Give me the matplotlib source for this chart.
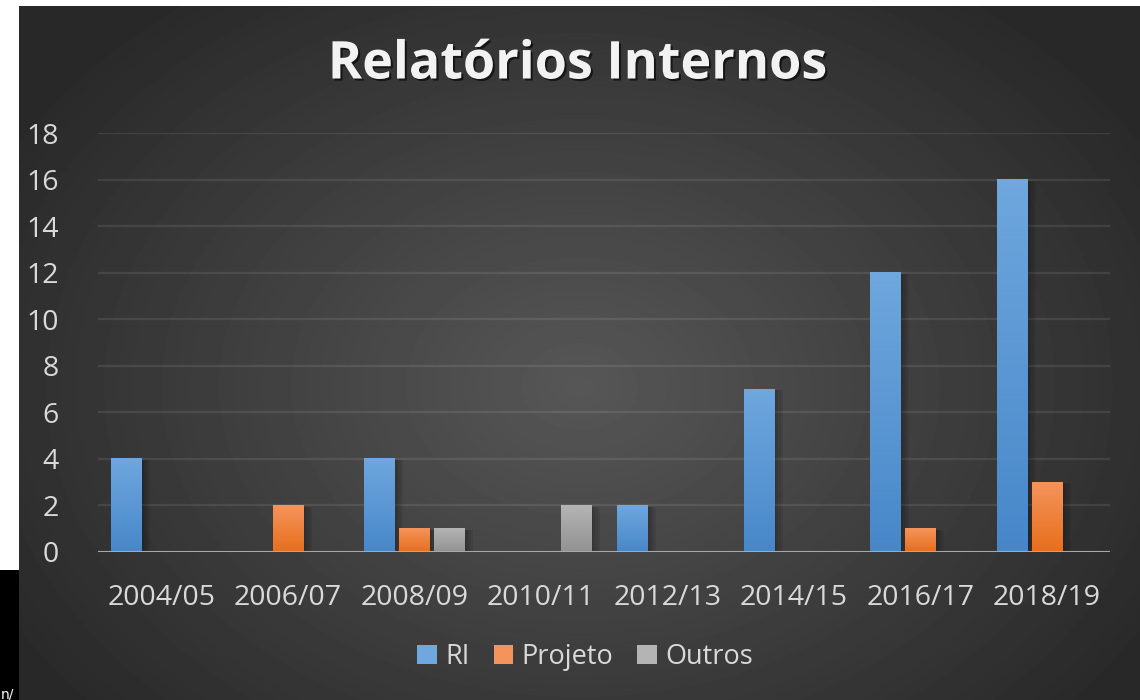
import matplotlib.pyplot as plt
import matplotlib.patheffects as pe
from matplotlib.patches import Rectangle, Patch
import numpy as np

# data
periods = ["2004/05", "2006/07", "2008/09", "2010/11", "2012/13", "2014/15", "2016/17", "2018/19"]
ri = [4, 0, 4, 0, 2, 7, 12, 16]
projeto = [0, 2, 1, 0, 0, 0, 1, 3]
outros = [0, 0, 1, 2, 0, 0, 0, 0]

series = [("RI", ri, "#6fa7de", "#4787c9"),
          ("Projeto", projeto, "#f4945c", "#e86e1b"),
          ("Outros", outros, "#b4b4b4", "#929292")]

W, H = 1140, 700
fig = plt.figure(figsize=(W / 100, H / 100), dpi=100, facecolor="white")

# dark panel with radial gradient
bg = fig.add_axes([19 / W, 0, (W - 19) / W, (H - 6) / H])
bg.set_axis_off()
yy, xx = np.mgrid[0:694, 0:1121]
r = np.sqrt(((xx - 560) / 700) ** 2 + ((yy - 380) / 520) ** 2)
shade = np.clip(0.34 - 0.19 * r, 0.16, 0.34)
bg.imshow(shade, cmap="gray", vmin=0, vmax=1, aspect="auto", interpolation="bilinear")

fig.patches.append(Rectangle((0, 0), 19 / W, 130 / H, transform=fig.transFigure,
                             facecolor="black", edgecolor="none", zorder=5))
fig.text(1 / W, 2 / H, "n/", color="white", fontsize=10, zorder=6)

ax = fig.add_axes([98 / W, 1 - 552 / H, (1110 - 98) / W, (552 - 133) / H])
ax.set_facecolor("none")
ax.set_xlim(-0.5, 7.5)
ax.set_ylim(0, 18)
ax.set_yticks(range(0, 19, 2))
ax.set_xticks(range(len(periods)))
ax.set_xticklabels(periods)
for s in ax.spines.values():
    s.set_visible(False)
ax.tick_params(length=0, colors="#d9d9d9", labelsize=20.5)
ax.tick_params(axis="y", pad=28)
ax.tick_params(axis="x", pad=23)
for lab in ax.get_xticklabels() + ax.get_yticklabels():
    lab.set_fontfamily("Open Sans")
ax.grid(axis="y", color="#ffffff", alpha=0.09, lw=1.6)
ax.set_axisbelow(True)
ax.axhline(0, color="#a8a8a8", lw=2.2, zorder=4)

x = np.arange(len(periods))
bw = 30 / 126.4
off = 35 / 126.4
grad = np.linspace(0, 1, 100).reshape(-1, 1)
for i, (name, vals, top, bot) in enumerate(series):
    xs = x + (i - 1) * off
    for xi, v in zip(xs, vals):
        if v == 0:
            continue
        # soft shadow
        for k in range(4):
            d = 0.012 * (k + 1)
            ax.add_patch(Rectangle((xi - bw / 2 + d, -0.15), bw + d * 0.5, v + 0.1,
                                   facecolor="black", alpha=0.07, edgecolor="none", zorder=2))
        c0 = np.array(plt.matplotlib.colors.to_rgb(top))
        c1 = np.array(plt.matplotlib.colors.to_rgb(bot))
        img = c0 + (c1 - c0) * grad[:, :, None]
        ax.imshow(img, extent=(xi - bw / 2, xi + bw / 2, 0, v), aspect="auto",
                  origin="upper", zorder=3)
    ax.bar(xs, vals, bw, color="none", label=name)

ax.set_xlim(-0.5, 7.5)
ax.set_ylim(0, 18)

fig.text(578 / W, 1 - 65 / H, "Relatórios Internos", ha="center", va="center",
         fontsize=37.5, fontweight="bold", color="#f2f2f2", family="Open Sans",
         path_effects=[pe.withSimplePatchShadow(offset=(1.5, -1.5), shadow_rgbFace="black", alpha=0.6)])

handles = [Patch(facecolor=c, edgecolor="none") for _, _, c, _ in series]
fig.legend(handles, [s[0] for s in series], loc="center", bbox_to_anchor=(585 / W, 1 - 657 / H),
           ncol=3, frameon=False, handlelength=0.72, handleheight=0.72, handletextpad=0.3,
           columnspacing=0.9, prop={"family": "Open Sans", "size": 19.5}, labelcolor="#d9d9d9")

fig.savefig("out.png", dpi=100, facecolor="white")
